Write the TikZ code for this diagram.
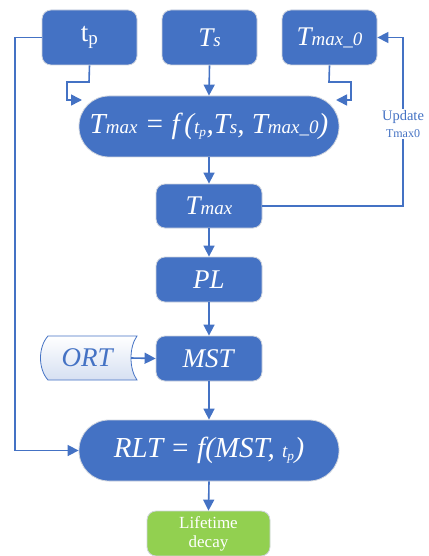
\documentclass[tikz,border=0pt]{standalone}
\usepackage{fontspec}
\setmainfont{Liberation Serif}
\usetikzlibrary{arrows.meta,shapes.geometric}
\definecolor{boxblue}{HTML}{4472C4}
\definecolor{boxgreen}{HTML}{92D050}
\definecolor{edgegrey}{HTML}{D0D5DE}
\newcommand\sm[1]{{\fontsize{19}{22}\selectfont #1}}
\begin{document}
\begin{tikzpicture}[x=1pt,y=-1pt,
  stepbox/.style={draw=edgegrey,line width=0.8pt,fill=boxblue,text=white,
    rounded corners=9pt,inner sep=0pt,font=\fontsize{27}{30}\selectfont},
  widebox/.style={stepbox,rounded corners=30pt},
  link/.style={draw=boxblue,line width=1.6pt,
    -{Triangle[length=11pt,width=11pt]}}]
\useasboundingbox (0,0) rectangle (428,556);

% inputs
\node[stepbox,minimum width=95pt,minimum height=55pt] (tp) at (89.5,37.5) {t\textsubscript{\sm{p}}};
\node[stepbox,minimum width=95pt,minimum height=55pt] (ts) at (209.5,37.5) {\textit{T\sm{s}}};
\node[stepbox,minimum width=95pt,minimum height=55pt] (t0) at (329.5,37.5) {\textit{T\sm{max\_0}}};

% computation chain
\node[widebox,minimum width=260pt,minimum height=61pt] (f) at (209,126.5)
  {\fontsize{29}{32}\selectfont\textit{T\sm{max} = f\,(\sm{t\textsubscript{p}},T\sm{s}, T\sm{max\_0})}};
\node[stepbox,minimum width=106pt,minimum height=44pt] (tmax) at (209,206) {\textit{T\sm{max}}};
\node[stepbox,minimum width=106pt,minimum height=45pt] (pl) at (209,279.5) {\textit{PL}};
\node[stepbox,minimum width=106pt,minimum height=45pt] (mst) at (209,358.5) {\textit{MST}};
\node[widebox,minimum width=260pt,minimum height=61pt] (rlt) at (209,450.5)
  {\fontsize{29}{32}\selectfont\textit{RLT = f(MST, \sm{t\textsubscript{p}})}};
\node[stepbox,fill=boxgreen,minimum width=123pt,minimum height=45pt,
  font=\fontsize{17}{19}\selectfont,align=center] (life) at (208.5,533.5) {Lifetime\\decay};

% stored data: ORT
\shade[top color=white,bottom color=boxblue!22,draw=boxblue,line width=0.8pt]
  (48,336) -- (137,336) .. controls (129,347) and (129,369) .. (137,380)
  -- (48,380) .. controls (38,369) and (38,347) .. (48,336) -- cycle;
\node[text=boxblue,font=\fontsize{27}{30}\selectfont,inner sep=0pt] (ort) at (88,358) {\textit{ORT}};
\coordinate (ortr) at (131,358);

% connectors
\draw[link] (tp.south) -- (89,82) -- (67,82) -- (67,100) -- (82,100);
\draw[link] (ts.south) -- (f.north);
\draw[link] (t0.south) -- (329,82) -- (351,82) -- (351,100) -- (336,100);
\draw[link] (f.south) -- (tmax.north);
\draw[link] (tmax.east) -- (403,206) -- (403,37.5) -- (t0.east);
\draw[link] (tmax.south) -- (pl.north);
\draw[link] (pl.south) -- (mst.north);
\draw[link] (ortr) -- (mst.west);
\draw[link] (mst.south) -- (rlt.north);
\draw[link] (tp.west) -- (15,37.5) -- (15,450.5) -- (rlt.west);
\draw[link] (rlt.south) -- (life.north);

% feedback label
\node[fill=white,text=boxblue,inner sep=1pt,align=center,
  font=\fontsize{14.5}{17}\selectfont] (upd) at (403,124)
  {Update\\{\fontsize{12}{14}\selectfont Tmax0}};
\end{tikzpicture}
\end{document}
